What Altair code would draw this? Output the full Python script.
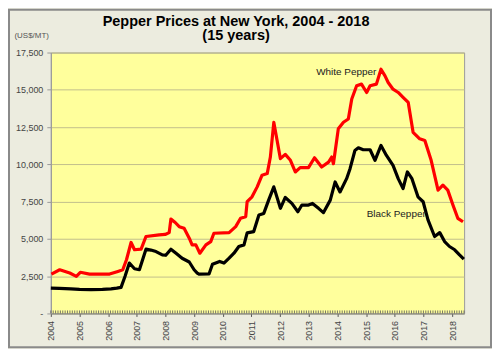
import altair as alt
import pandas as pd

# ---- data (fractional year, US$/MT) ----
black_years = [2004.0, 2004.3, 2004.7, 2005.0, 2005.4, 2005.8, 2006.1, 2006.3, 2006.45, 2006.59,
               2006.74, 2006.92, 2007.09, 2007.32, 2007.49, 2007.67, 2007.89, 2008.01, 2008.19, 2008.39,
               2008.58, 2008.83, 2009.0, 2009.11, 2009.17, 2009.52, 2009.64, 2009.89, 2010.04, 2010.22,
               2010.39, 2010.56, 2010.74, 2010.85, 2011.08, 2011.26, 2011.43, 2011.6, 2011.78, 2012.01,
               2012.18, 2012.41, 2012.62, 2012.76, 2012.99, 2013.13, 2013.34, 2013.51, 2013.75, 2013.92,
               2014.09, 2014.32, 2014.44, 2014.61, 2014.73, 2014.9, 2015.14, 2015.31, 2015.52, 2015.71,
               2015.94, 2016.12, 2016.29, 2016.44, 2016.6, 2016.81, 2016.99, 2017.16, 2017.39, 2017.57,
               2017.74, 2017.91, 2018.09, 2018.26, 2018.41]
black_values = [1700, 1680, 1650, 1620, 1600, 1620, 1650, 1700, 1750, 2500,
                3380, 3000, 2930, 4310, 4250, 4150, 3930, 3900, 4310, 4000,
                3700, 3450, 2930, 2710, 2640, 2650, 3300, 3490, 3380, 3710,
                4040, 4490, 4600, 5400, 5490, 6600, 6710, 7600, 8490, 7050,
                7780, 7380, 6820, 7270, 7270, 7380, 7050, 6760, 7600, 8820,
                8150, 9040, 9710, 10930, 11110, 10980, 10980, 10270, 11270, 10600,
                9930, 9040, 8380, 9490, 9040, 7820, 7490, 6270, 5160, 5420,
                4820, 4490, 4270, 3930, 3650]

white_years = [2004.02, 2004.31, 2004.66, 2004.89, 2005.03, 2005.35, 2006.05, 2006.34, 2006.51, 2006.64,
               2006.8, 2006.92, 2007.15, 2007.32, 2007.78, 2007.99, 2008.13, 2008.19, 2008.34, 2008.48,
               2008.65, 2008.83, 2008.93, 2009.06, 2009.2, 2009.41, 2009.58, 2009.69, 2010.22, 2010.45,
               2010.62, 2010.8, 2010.85, 2011.02, 2011.2, 2011.37, 2011.55, 2011.66, 2011.78, 2012.01,
               2012.18, 2012.36, 2012.53, 2012.7, 2012.99, 2013.2, 2013.45, 2013.69, 2013.8, 2013.86,
               2014.03, 2014.21, 2014.38, 2014.5, 2014.67, 2014.84, 2015.02, 2015.14, 2015.36, 2015.52,
               2015.66, 2015.77, 2015.94, 2016.12, 2016.29, 2016.47, 2016.64, 2016.87, 2017.05, 2017.27,
               2017.51, 2017.68, 2017.85, 2018.03, 2018.2, 2018.38]
white_values = [2640, 2930, 2710, 2490, 2760, 2640, 2640, 2820, 2930, 3600,
                4760, 4270, 4310, 5160, 5270, 5300, 5420, 6330, 6100, 5820,
                5710, 5050, 4600, 4600, 4040, 4600, 4820, 5380, 5420, 5820,
                6380, 6490, 7500, 7820, 8490, 9270, 9380, 10490, 12820, 10380,
                10670, 10270, 9490, 9780, 9780, 10440, 9820, 10150, 10490, 10040,
                12380, 12820, 13040, 14380, 15270, 15380, 14820, 15270, 15380, 16380,
                15930, 15490, 15040, 14820, 14490, 14150, 12150, 11710, 11600, 10270,
                8270, 8600, 8270, 7270, 6380, 6150]

series_names = ["White Pepper", "Black Pepper"]
series_colors = ["#FF0000", "#000000"]
label_years = [2014.31, 2016.05]
label_values = [16200, 6670]

title_lines = ["Pepper Prices at New York, 2004 - 2018", "(15 years)"]
unit_label = "(US$/MT)"
y_ticks = [0, 2500, 5000, 7500, 10000, 12500, 15000, 17500]
year_ticks = list(range(2004, 2019))
x_start, x_end = 2004, 2018.42
month_ticks = [2004 + i / 12 for i in range(0, 174)]

rows = []
for yr, v in zip(white_years, white_values):
    rows.append({"year": yr, "price": v, "series": series_names[0]})
for yr, v in zip(black_years, black_values):
    rows.append({"year": yr, "price": v, "series": series_names[1]})
df = pd.DataFrame(rows)
labels_df = pd.DataFrame({"year": label_years, "price": label_values, "label": series_names})
months_df = pd.DataFrame({"year": month_ticks})
one = pd.DataFrame({"k": [0]})

FONT = "Liberation Sans"
W, H = 415, 262

x_scale = alt.Scale(domain=[x_start, x_end], nice=False, zero=False)
y_scale = alt.Scale(domain=[0, 17500], nice=False)
x_axis = alt.Axis(values=year_ticks, format="d",
                  labelAngle=-90, labelAlign="right", labelBaseline="middle",
                  labelOverlap=False, labelFontSize=9, labelColor="#444444",
                  labelFont=FONT, tickSize=3, tickColor="#555555", labelPadding=4,
                  domainColor="#888888", grid=False, title=None)
y_axis = alt.Axis(values=y_ticks,
                  labelExpr="datum.value == 0 ? '-' : format(datum.value, ',')",
                  labelFontSize=9, labelColor="#444444", labelFont=FONT,
                  tickSize=4, tickColor="#999999", labelPadding=4,
                  gridColor="#C2BE8C", gridWidth=1, domainColor="#999999",
                  title=unit_label, titleAngle=0, titleAlign="left",
                  titleBaseline="middle", titleX=-37, titleY=-17,
                  titleFontSize=8, titleFontWeight="normal", titleColor="#555555",
                  titleFont=FONT)
x_enc = alt.X("year:Q", scale=x_scale, axis=x_axis)
y_enc = alt.Y("price:Q", scale=y_scale, axis=y_axis)

color_enc = alt.Color("series:N", scale=alt.Scale(domain=series_names, range=series_colors),
                      legend=None)

lines = alt.Chart(df).mark_line(strokeWidth=3.2, strokeJoin="round").encode(
    x=x_enc, y=y_enc, color=color_enc, detail="series:N", order="year:Q")

minor = alt.Chart(months_df).mark_rule(color="#555555", strokeWidth=0.8).encode(
    x=x_enc, y=alt.value(H - 3), y2=alt.value(H))

texts = alt.Chart(labels_df).mark_text(font=FONT, fontSize=10, color="#222222").encode(
    x=x_enc, y=y_enc, text="label:N")

title = alt.Chart(one).mark_text(font=FONT, fontSize=14.5, fontWeight="bold", color="#000000",
                                 align="center", baseline="alphabetic", lineHeight=14.5,
                                 clip=False).encode(
    x=alt.value(186), y=alt.value(-27), text=alt.value(title_lines))

frame = alt.Chart(one).mark_rect(fill=None, stroke="#8A8A8A", strokeWidth=2, clip=False).encode(
    x=alt.value(-42), x2=alt.value(W + 27), y=alt.value(-43), y2=alt.value(H + 34))

chart = alt.layer(lines, minor, texts, title, frame).properties(
    width=W, height=H,
    background="#ECECDF",
    padding={"left": 43, "top": 44, "right": 28, "bottom": 35},
    autosize=alt.AutoSizeParams(type="none"),
).configure_view(fill="#FFFF9C", stroke="#999999", strokeWidth=1)

chart.save("out.html", embed_options={"renderer": "svg", "actions": False})
